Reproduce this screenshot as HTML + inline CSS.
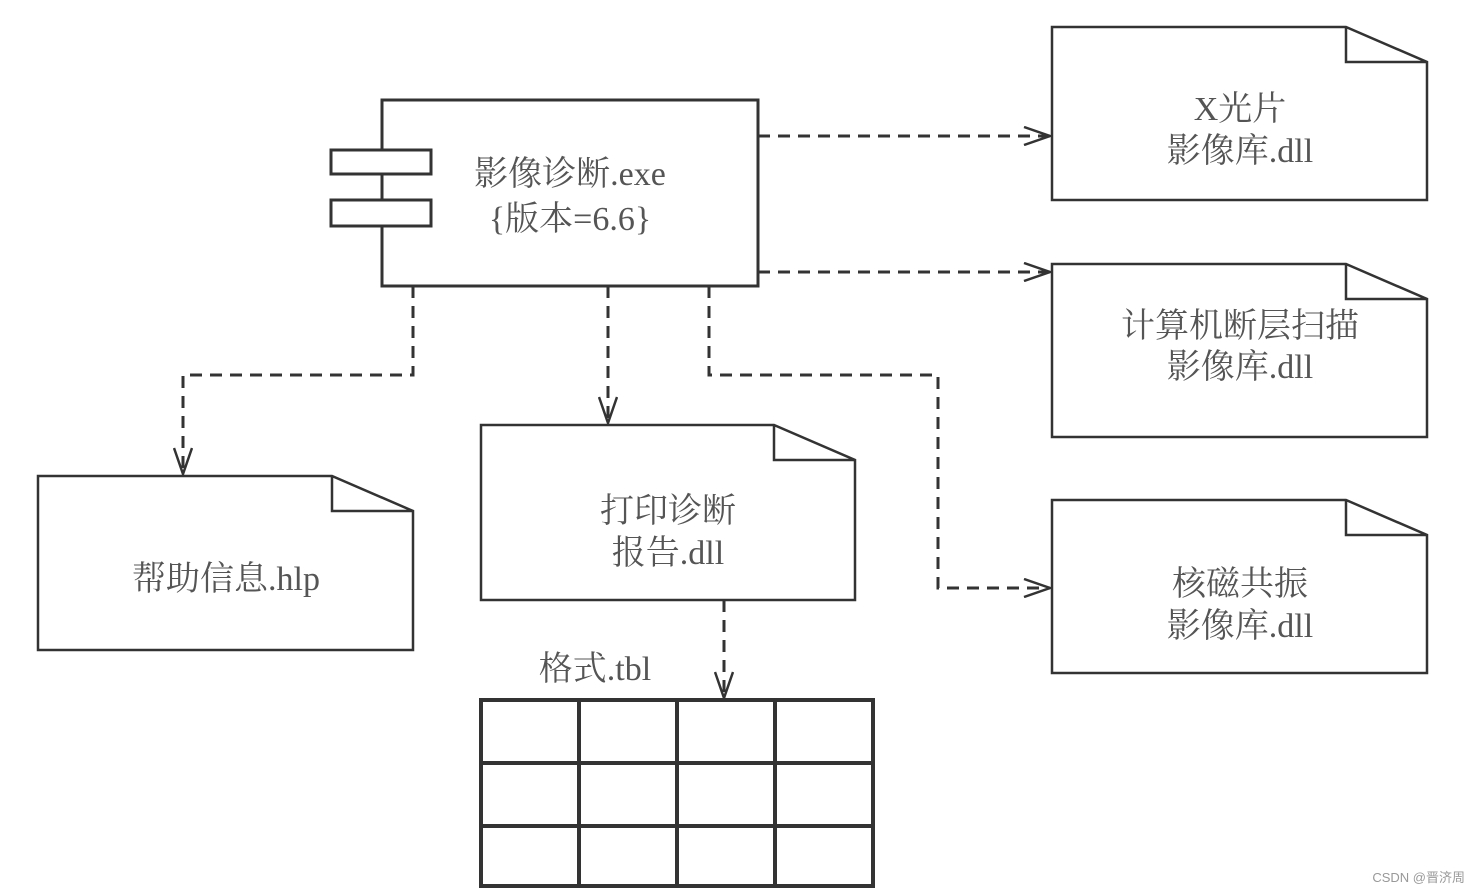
<!DOCTYPE html>
<html><head><meta charset="utf-8"><style>
html,body{margin:0;padding:0;background:#fff;}
svg{display:block;}
text{font-family:"Liberation Serif","Noto Serif CJK SC",serif;fill:#555;}
</style></head><body>
<svg width="1480" height="893" viewBox="0 0 1480 893" xmlns="http://www.w3.org/2000/svg">
<defs>
<marker id="a" markerWidth="30" markerHeight="20" refX="28" refY="10" orient="auto" markerUnits="userSpaceOnUse">
<path d="M2,1 L28,10 L2,19" fill="none" stroke="#333" stroke-width="2.5"/>
</marker>
</defs>
<g fill="none" stroke="#333" stroke-width="3">
<!-- component -->
<rect x="382" y="100" width="376" height="186" fill="#fff"/>
<rect x="331" y="150" width="100" height="24" fill="#fff"/>
<rect x="331" y="200" width="100" height="26" fill="#fff"/>
</g>
<g fill="none" stroke="#333" stroke-width="2.5">
<!-- docs -->
<path d="M1052,27 H1346 L1427,62 V200 H1052 Z M1346,27 V62 H1427"/>
<path d="M1052,264 H1346 L1427,299 V437 H1052 Z M1346,264 V299 H1427"/>
<path d="M1052,500 H1346 L1427,535 V673 H1052 Z M1346,500 V535 H1427"/>
<path d="M38,476 H332 L413,511 V650 H38 Z M332,476 V511 H413"/>
<path d="M481,425 H774 L855,460 V600 H481 Z M774,425 V460 H855"/>
</g>
<g fill="none" stroke="#333" stroke-width="3" stroke-dasharray="12,8">
<path d="M758,136 H1050" marker-end="url(#a)"/>
<path d="M758,272 H1050" marker-end="url(#a)"/>
<path d="M413,286 V375 H183 V474" marker-end="url(#a)"/>
<path d="M608,286 V423" marker-end="url(#a)"/>
<path d="M709,286 V375 H938 V588 H1050" marker-end="url(#a)"/>
<path d="M724,600 V698" marker-end="url(#a)"/>
</g>
<!-- table -->
<g fill="none" stroke="#333" stroke-width="4">
<rect x="481" y="700" width="392" height="186"/>
<path d="M579,700 V886 M677,700 V886 M775,700 V886 M481,763 H873 M481,826 H873"/>
</g>
<g font-size="34" text-anchor="middle">
<text x="570" y="185">影像诊断.exe</text>
<text x="570" y="230">{版本=6.6}</text>
<text x="1240" y="120">X光片</text>
<text x="1240" y="162">影像库.dll</text>
<text x="1240" y="337">计算机断层扫描</text>
<text x="1240" y="378">影像库.dll</text>
<text x="1240" y="595">核磁共振</text>
<text x="1240" y="637">影像库.dll</text>
<text x="226" y="590">帮助信息.hlp</text>
<text x="668" y="522">打印诊断</text>
<text x="668" y="564">报告.dll</text>
<text x="595" y="680">格式.tbl</text>
</g>
<text x="1465" y="882" font-size="13" text-anchor="end" style="font-family:'Liberation Sans','Noto Sans CJK SC',sans-serif;fill:#999">CSDN @晋济周</text>
</svg>
</body></html>
